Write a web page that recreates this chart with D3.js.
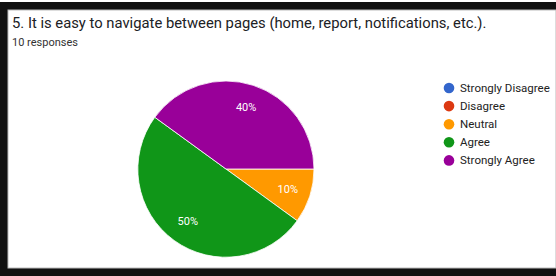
<!DOCTYPE html>
<html>
<head>
  <script src="https://d3js.org/d3.v7.min.js"></script>
  <style>
    body { margin: 0; background: #fff; font-family: Roboto, Arial, sans-serif; }
    .title { font-size: 14.8px; fill: #202124; }
    .subtitle { font-size: 11px; fill: #333; }
    .slice-label { fill: #fff; font-size: 11px; text-anchor: middle; dominant-baseline: central; }
    .legend text { font-size: 11.5px; fill: #222; dominant-baseline: central; }
  </style>
</head>
<body>
  <div id="chart"></div>
  <script>
    const categories = ["Strongly Disagree", "Disagree", "Neutral", "Agree", "Strongly Agree"];
    const counts = [0, 0, 1, 5, 4];
    const colors = ["#3366cc", "#dc3912", "#ff9900", "#109618", "#990099"];
    const titleText = "5. It is easy to navigate between pages (home, report, notifications, etc.).";
    const subtitleText = "10 responses";

    const width = 556, height = 276;
    const cx = 226, cy = 169, radius = 88;

    const svg = d3.select("#chart")
      .append("svg")
        .attr("width", width)
        .attr("height", height);

    // frame (screenshot border)
    svg.append("rect").attr("x", 0).attr("y", 0).attr("width", width).attr("height", height).attr("fill", "#fff");
    svg.append("rect").attr("x", 0).attr("y", 2).attr("width", width).attr("height", 8).attr("fill", "#111");
    svg.append("rect").attr("x", 0).attr("y", 2).attr("width", 8).attr("height", height).attr("fill", "#111");
    svg.append("rect").attr("x", 0).attr("y", 268).attr("width", width).attr("height", 8).attr("fill", "#111");
    svg.append("rect").attr("x", 8).attr("y", 10).attr("width", width - 8).attr("height", 258)
      .attr("fill", "#fff").attr("stroke", "#bbb").attr("stroke-width", 1);

    svg.append("text").attr("class", "title").attr("x", 12).attr("y", 28).text(titleText);
    svg.append("text").attr("class", "subtitle").attr("x", 12).attr("y", 46).text(subtitleText);

    const data = categories.map((c, i) => ({ name: c, value: counts[i], color: colors[i] }));
    const total = d3.sum(counts);

    const pie = d3.pie()
      .value(d => d.value)
      .sort(null)
      .startAngle(Math.PI / 2)
      .endAngle(Math.PI / 2 + 2 * Math.PI);

    const arc = d3.arc().innerRadius(0).outerRadius(radius);
    const labelArc = d3.arc().innerRadius(65).outerRadius(65);

    const g = svg.append("g").attr("transform", `translate(${cx},${cy})`);
    const arcs = pie(data).filter(d => d.data.value > 0);

    g.selectAll("path")
      .data(arcs)
      .join("path")
        .attr("d", arc)
        .attr("fill", d => d.data.color)
        .attr("stroke", "#fff")
        .attr("stroke-width", 0.8);

    g.selectAll(".slice-label")
      .data(arcs)
      .join("text")
        .attr("class", "slice-label")
        .attr("transform", d => `translate(${labelArc.centroid(d)})`)
        .text(d => Math.round(d.data.value / total * 100) + "%");

    // legend
    const legend = svg.append("g").attr("class", "legend").attr("transform", "translate(449,88)");
    const item = legend.selectAll("g")
      .data(data)
      .join("g")
        .attr("transform", (d, i) => `translate(0,${i * 18.1})`);
    item.append("circle").attr("r", 5.3).attr("fill", d => d.color);
    item.append("text").attr("x", 11).attr("y", 0).text(d => d.name);
  </script>
</body>
</html>
